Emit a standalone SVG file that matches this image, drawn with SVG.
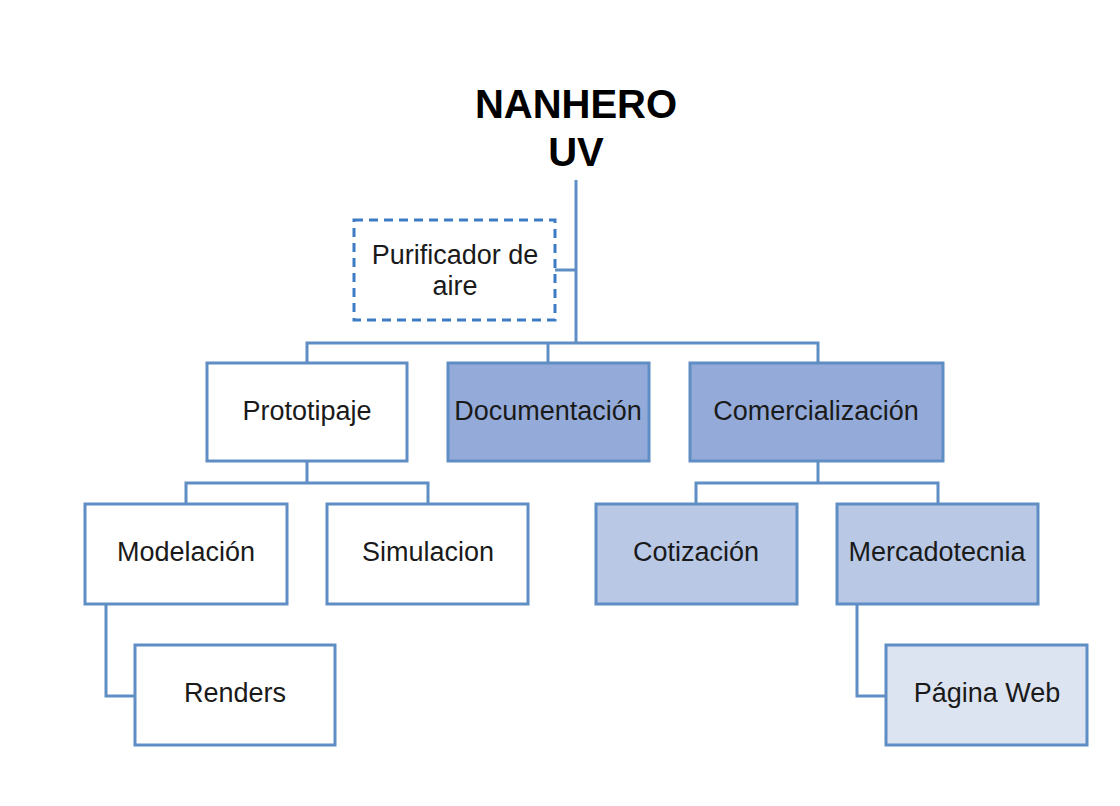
<svg xmlns="http://www.w3.org/2000/svg" width="1120" height="806" viewBox="0 0 1120 806">
<style>
.box{stroke:#5f8ec4;stroke-width:3;}
.w{fill:#ffffff;}
.d1{fill:#94abd9;}
.d2{fill:#b8c8e5;}
.d3{fill:#dce3f1;}
.dash{fill:#ffffff;stroke:#3d7cc4;stroke-width:3;stroke-dasharray:9 6;}
.lbl{font-family:"Liberation Sans",Arial,sans-serif;font-size:27px;fill:#1a1a1a;text-anchor:middle;}
.title{font-family:"Liberation Sans",Arial,sans-serif;font-size:40px;font-weight:bold;fill:#000;text-anchor:middle;}
.con{fill:none;stroke:#5f8ec4;stroke-width:3;}
</style>
<rect width="1120" height="806" fill="#ffffff"/>
<g id="connectors">
<path class="con" d="M576,180 V343"/>
<path class="con" d="M555,270 H576"/>
<path class="con" d="M307,363 V343 H818 V363"/>
<path class="con" d="M548,343 V363"/>
<path class="con" d="M307,461 V483"/>
<path class="con" d="M186,504 V483 H428 V504"/>
<path class="con" d="M818,461 V483"/>
<path class="con" d="M696,504 V483 H938 V504"/>
<path class="con" d="M106,604 V696 H135"/>
<path class="con" d="M857,604 V696 H886"/>
</g>
<g id="root">
<text class="title" x="576" y="118">NANHERO</text>
<text class="title" x="576" y="166">UV</text>
</g>
<g id="purificador">
<rect class="dash" x="354" y="220" width="201" height="100"/>
<text class="lbl" x="455" y="264">Purificador de</text>
<text class="lbl" x="455" y="295">aire</text>
</g>
<g id="prototipaje">
<rect class="box w" x="207" y="363" width="200" height="98"/>
<text class="lbl" x="307" y="420">Prototipaje</text>
</g>
<g id="documentacion">
<rect class="box d1" x="448" y="363" width="201" height="98"/>
<text class="lbl" x="548" y="420">Documentación</text>
</g>
<g id="comercializacion">
<rect class="box d1" x="690" y="363" width="253" height="98"/>
<text class="lbl" x="816" y="420">Comercialización</text>
</g>
<g id="modelacion">
<rect class="box w" x="85" y="504" width="202" height="100"/>
<text class="lbl" x="186" y="561">Modelación</text>
</g>
<g id="simulacion">
<rect class="box w" x="327" y="504" width="201" height="100"/>
<text class="lbl" x="428" y="561">Simulacion</text>
</g>
<g id="renders">
<rect class="box w" x="135" y="645" width="200" height="100"/>
<text class="lbl" x="235" y="702">Renders</text>
</g>
<g id="cotizacion">
<rect class="box d2" x="596" y="504" width="201" height="100"/>
<text class="lbl" x="696" y="561">Cotización</text>
</g>
<g id="mercadotecnia">
<rect class="box d2" x="837" y="504" width="201" height="100"/>
<text class="lbl" x="937" y="561">Mercadotecnia</text>
</g>
<g id="paginaweb">
<rect class="box d3" x="886" y="645" width="201" height="100"/>
<text class="lbl" x="987" y="702">Página Web</text>
</g>
</svg>
